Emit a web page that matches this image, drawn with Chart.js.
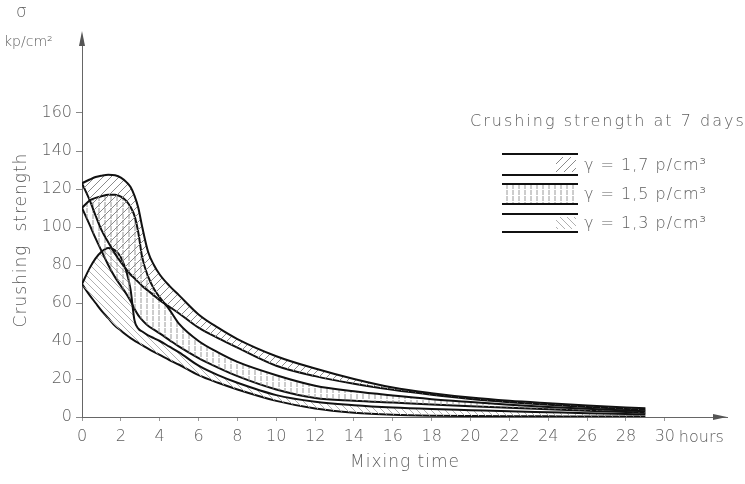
<!DOCTYPE html>
<html>
<head>
<meta charset="utf-8">
<script src="https://cdn.jsdelivr.net/npm/chart.js@4.4.0/dist/chart.umd.min.js"></script>
<style>
    html, body { margin: 0; padding: 0; background: #fff; }
    #dvChart { width: 745px; height: 484px; }
</style>
</head>
<body>
<div id="dvChart"><canvas id="chartArea" width="745" height="484"></canvas></div>
<script>
// mixing time (hours), shared by all six boundary curves
var hours = [0, 0.4, 0.7, 1, 1.35, 1.7, 2, 2.3, 2.5, 2.7, 2.9, 3.1, 3.4, 3.7, 4, 4.5, 5, 6, 7, 8, 10, 12, 14, 16, 18, 20, 22, 24, 26, 28, 29];

// gamma = 1,7 band
var g17Top    = [123, 125, 126.3, 127, 127.5, 127.2, 126, 123.5, 121, 116.5, 110, 100, 87, 80, 75, 69, 64, 54, 47, 41, 32, 25.5, 20, 15.5, 12.5, 10.2, 8.5, 7.2, 6, 5, 4.6];
var g17Bottom = [123, 114, 106, 98.5, 92, 86, 81.5, 77.5, 75, 73, 71, 69, 66.5, 64, 61.5, 58, 54.5, 47, 41.5, 36.5, 27, 21.5, 17.5, 14.3, 11.7, 9.5, 7.8, 6.4, 5.2, 4.2, 3.8];
// gamma = 1,5 band
var g15Top    = [110, 114, 115.3, 116.2, 117, 117, 116, 113.5, 110.5, 106, 97, 84, 74, 67.5, 63, 56.5, 49, 40, 34, 29, 22, 16.5, 13.5, 11.3, 9.4, 7.9, 6.5, 5.3, 4.3, 3.4, 3];
var g15Bottom = [110, 101, 94, 87.5, 80, 73.5, 69, 64.5, 61, 57, 53.5, 51, 48, 46, 44, 40.5, 37, 31, 26, 21.5, 14.5, 10, 8.6, 7.6, 6.6, 5.7, 4.9, 4.1, 3.3, 2.6, 2.3];
// gamma = 1,3 band
var g13Top    = [70, 78.5, 83.5, 87, 89, 87.8, 84, 76, 67, 51, 46.5, 45, 43, 41.5, 40, 37, 34, 27, 22, 18, 11.5, 8, 6.2, 5, 4.2, 3.6, 3, 2.5, 2, 1.6, 1.4];
var g13Bottom = [70, 64, 60, 56, 52, 48, 45.5, 43, 41.5, 40.2, 39, 37.8, 36, 34.3, 32.7, 30, 27.5, 22, 18, 14.5, 8.5, 4.5, 2.3, 1.2, 0.7, 0.5, 0.4, 0.35, 0.3, 0.3, 0.3];

var xTicks = [0, 2, 4, 6, 8, 10, 12, 14, 16, 18, 20, 22, 24, 26, 28, 30];
var yTicks = [0, 20, 40, 60, 80, 100, 120, 140, 160];
var densityLabels = ['\u03b3 = 1,7 p/cm\u00b3', '\u03b3 = 1,5 p/cm\u00b3', '\u03b3 = 1,3 p/cm\u00b3'];

var textColor = '#5e5e5e';
var fontFamily = "'DejaVu Sans', sans-serif";

function toPoints(ys) {
    return ys.map(function (y, i) { return { x: hours[i], y: y }; });
}

function makeHatch(kind, gap, color) {
    var c = document.createElement('canvas');
    c.width = gap; c.height = gap;
    var x = c.getContext('2d');
    x.strokeStyle = color;
    x.lineWidth = 1;
    x.beginPath();
    if (kind == '/') {
        x.moveTo(0, gap); x.lineTo(gap, 0);
        x.moveTo(-1, 1); x.lineTo(1, -1);
        x.moveTo(gap - 1, gap + 1); x.lineTo(gap + 1, gap - 1);
    } else if (kind == '|') {
        x.setLineDash([3, 1]);
        x.moveTo(gap / 2, 0); x.lineTo(gap / 2, gap);
    } else {
        x.moveTo(0, 0); x.lineTo(gap, gap);
        x.moveTo(-1, gap - 1); x.lineTo(1, gap + 1);
        x.moveTo(gap - 1, -1); x.lineTo(gap + 1, 1);
    }
    x.stroke();
    return x.createPattern(c, 'repeat');
}

var ctx = document.getElementById('chartArea').getContext('2d');
var hatch17 = makeHatch('/', 8, '#8a8a8a');
var hatch15 = makeHatch('|', 6, '#9a9a9a');
var hatch13 = makeHatch('\\', 7, '#b0b0b0');

function band(data, fill, bg) {
    return {
        data: toPoints(data),
        borderColor: '#111',
        borderWidth: 2,
        pointRadius: 0,
        cubicInterpolationMode: 'monotone',
        fill: fill,
        backgroundColor: bg
    };
}

var decor = {
    id: 'decor',
    afterDraw: function (chart) {
        var c = chart.ctx, a = chart.chartArea;
        var x0 = chart.scales.x.getPixelForValue(0);
        var y0 = chart.scales.y.getPixelForValue(0);
        c.save();
        // arrow heads
        c.fillStyle = '#555';
        c.beginPath();
        c.moveTo(x0, a.top - 6); c.lineTo(x0 - 3, a.top + 9); c.lineTo(x0 + 3, a.top + 9);
        c.closePath(); c.fill();
        c.beginPath();
        c.moveTo(a.right, y0); c.lineTo(a.right - 14, y0 - 3); c.lineTo(a.right - 14, y0 + 3);
        c.closePath(); c.fill();

        c.fillStyle = textColor;
        c.textBaseline = 'middle';
        c.textAlign = 'left';
        c.font = '200 17px ' + fontFamily;
        c.fillText('\u03c3', 16, 13);
        c.font = '200 14px ' + fontFamily;
        c.fillText('kp/cm\u00b2', 4, 42);
        c.font = '200 16px ' + fontFamily;
        c.fillText('hours', chart.scales.x.getPixelForValue(30) + 14, 438);

        c.letterSpacing = '1px';
        c.font = '200 17px ' + fontFamily;
        c.textAlign = 'center';
        c.fillText('Mixing time', 405, 463);
        c.save();
        c.translate(22, 240);
        c.rotate(-Math.PI / 2);
        c.fillText('Crushing  strength', 0, 0);
        c.restore();

        // legend
        c.textAlign = 'left';
        c.font = '200 16px ' + fontFamily;
        c.letterSpacing = '2px';
        c.fillText('Crushing strength at 7 days', 470, 122);
        c.letterSpacing = '1px';
        var rows = [[154, 175, hatch17], [184, 204, hatch15], [214, 232, hatch13]];
        rows.forEach(function (r, i) {
            c.fillStyle = r[2];
            if (i == 1) c.fillRect(502, r[0], 75, r[1] - r[0]);
            else c.fillRect(556, r[0] + 3, 20, r[1] - r[0] - 6);
            c.strokeStyle = '#111';
            c.lineWidth = 2;
            c.beginPath();
            c.moveTo(502, r[0]); c.lineTo(578, r[0]);
            c.moveTo(502, r[1]); c.lineTo(578, r[1]);
            c.stroke();
            c.fillStyle = textColor;
            c.fillText(densityLabels[i], 584, (r[0] + r[1]) / 2 + 1);
        });
        c.restore();
    }
};

var config = {
    type: 'line',
    data: {
        datasets: [
            band(g17Top, '+1', hatch17),
            band(g17Bottom, false, 'transparent'),
            band(g15Top, '+1', hatch15),
            band(g15Bottom, false, 'transparent'),
            band(g13Top, '+1', hatch13),
            band(g13Bottom, false, 'transparent')
        ]
    },
    options: {
        responsive: false,
        animation: false,
        layout: { padding: { left: 0, right: 18, top: 37, bottom: 0 } },
        plugins: { legend: { display: false }, tooltip: { enabled: false } },
        scales: {
            x: {
                type: 'linear',
                min: 0,
                max: 33.2,
                afterBuildTicks: function (s) { s.ticks = xTicks.map(function (v) { return { value: v }; }); },
                afterFit: function (s) { s.height = 67; },
                ticks: { color: textColor, font: { family: fontFamily, size: 16, weight: '200' }, padding: 6, maxRotation: 0, autoSkip: false },
                grid: { drawOnChartArea: false, drawTicks: true, tickLength: 4, color: '#999' },
                border: { display: true, color: '#666', width: 1, dash: [2, 2] }
            },
            y: {
                min: 0,
                max: 200,
                afterBuildTicks: function (s) { s.ticks = yTicks.map(function (v) { return { value: v }; }); },
                afterFit: function (s) { s.width = 82; },
                ticks: { color: textColor, font: { family: fontFamily, size: 16, weight: '200' }, padding: 4 },
                grid: { drawOnChartArea: false, drawTicks: true, tickLength: 6, color: '#888' },
                border: { display: true, color: '#666', width: 1, dash: [2, 2] }
            }
        }
    },
    plugins: [decor]
};
var myNewChart = new Chart(ctx, config);
</script>
</body>
</html>
